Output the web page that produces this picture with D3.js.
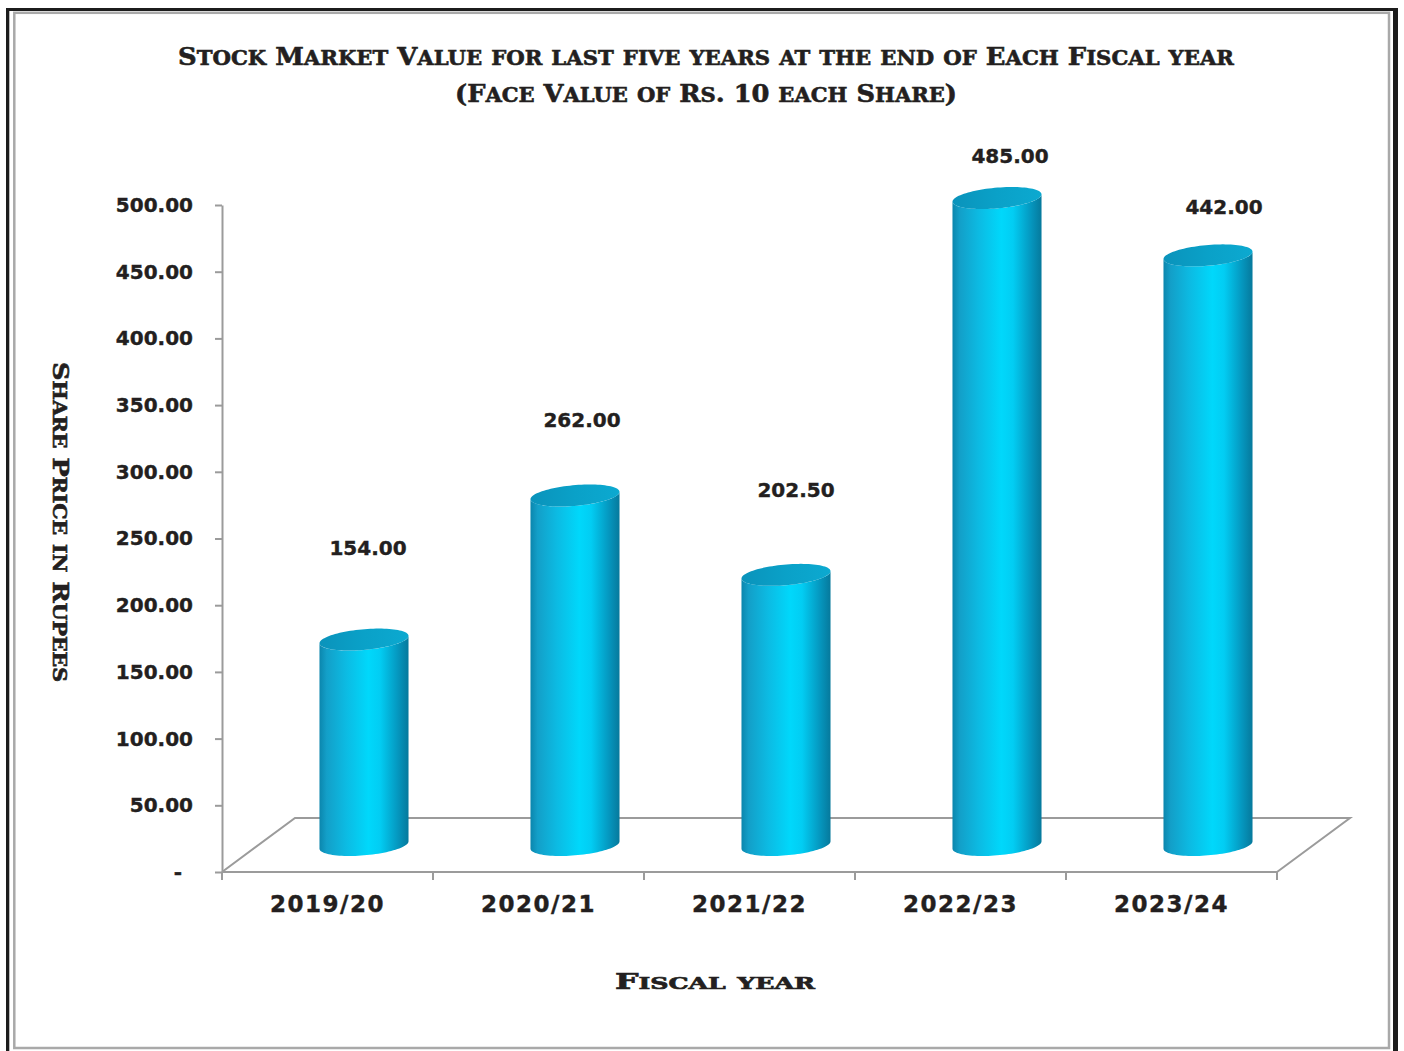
<!DOCTYPE html>
<html>
<head>
<meta charset="utf-8">
<script src="https://cdn.jsdelivr.net/npm/d3@7"></script>
<style>
  html, body { margin: 0; padding: 0; background: #ffffff; }
  svg { display: block; }
</style>
</head>
<body>
<svg id="chart" width="1404" height="1051"></svg>
<script>
// Fiscal years and closing share price (Rs.) for each year
const categories = ["2019/20", "2020/21", "2021/22", "2022/23", "2023/24"];
const sharePrices = [154, 262, 202.5, 485, 442];
const yTickValues = [0, 50, 100, 150, 200, 250, 300, 350, 400, 450, 500];
const titleLines = [
  "Stock Market Value for last five years at the end of Each Fiscal year",
  "(Face Value of Rs. 10 each Share)"
];
const yAxisTitle = "Share Price in Rupees";
const xAxisTitle = "Fiscal year";

const svg = d3.select("#chart");
const ink = "#231f20";
const floorGrey = "#9b9b9b";

// ---- frame ----
svg.append("rect").attr("x", 6).attr("y", 8).attr("width", 1392).attr("height", 3).attr("fill", "#1c1c1c");
svg.append("rect").attr("x", 6).attr("y", 8).attr("width", 3.3).attr("height", 1043).attr("fill", "#1c1c1c");
svg.append("rect").attr("x", 1393).attr("y", 8).attr("width", 5).attr("height", 1043).attr("fill", "#1c1c1c");
svg.append("rect").attr("x", 14.3).attr("y", 12.8).attr("width", 1374.7).attr("height", 1035.2)
  .attr("fill", "none").attr("stroke", "#a9a9a9").attr("stroke-width", 2.5);

// ---- small caps helper: capitals at full size, lower case as reduced capitals ----
function smallCaps(sel, str, size, ratio) {
  const runs = [];
  for (const ch of str) {
    const small = ch !== ch.toUpperCase();
    const last = runs[runs.length - 1];
    if (last && last.small === small) last.t += ch; else runs.push({ small, t: ch });
  }
  sel.selectAll("tspan").data(runs).join("tspan")
    .attr("font-size", d => d.small ? size * ratio : size)
    .text(d => d.small ? d.t.toUpperCase() : d.t);
  return sel;
}

const serif = "'DejaVu Serif', 'Liberation Serif', serif";
const sans = "'DejaVu Sans', Verdana, sans-serif";

// heavier strokes so the bold faces read as solidly as the print
function heavy(sel, w) {
  return sel.attr("stroke", ink).attr("stroke-width", w).attr("paint-order", "stroke");
}

// ---- title ----
const titleY = [65, 102];
const titleW = [1056, 502];
titleLines.forEach((line, i) => {
  const t = svg.append("text")
    .attr("x", 706).attr("y", titleY[i])
    .attr("text-anchor", "middle")
    .attr("font-family", serif).attr("font-weight", "bold")
    .attr("fill", ink)
    .attr("textLength", titleW[i]).attr("lengthAdjust", "spacingAndGlyphs");
  heavy(t, 0.6);
  smallCaps(t, line, 25, 0.82);
});

// ---- scales ----
const plotLeft = 222, plotRight = 1277;
const y = d3.scaleLinear().domain([0, 500]).range([872, 205]);
const x = d3.scaleBand().domain(categories).range([plotLeft, plotRight]).padding(0);
const depth = { dx: 73, dy: -54 };   // oblique offset of the floor's back edge

// ---- floor ----
const y0 = y(0);
const floor = svg.append("g").attr("fill", "none").attr("stroke", floorGrey).attr("stroke-width", 2);
floor.append("path").attr("d", d3.line()([
  [plotLeft, y0], [plotLeft + depth.dx, y0 + depth.dy], [plotRight + depth.dx, y0 + depth.dy], [plotRight, y0]
]));
floor.append("line").attr("x1", plotLeft).attr("x2", plotRight).attr("y1", y0).attr("y2", y0);

// ---- gradients ----
const defs = svg.append("defs");
const bodyGrad = defs.append("linearGradient").attr("id", "cylBody").attr("x1", 0).attr("x2", 1).attr("y1", 0).attr("y2", 0);
[[0, "#0b86ad"], [0.08, "#139fc8"], [0.3, "#0cbbe3"], [0.55, "#00d8fb"], [0.68, "#02cdf3"], [0.88, "#0597bf"], [1, "#06799c"]]
  .forEach(([o, c]) => bodyGrad.append("stop").attr("offset", o).attr("stop-color", c));
const topGrad = defs.append("linearGradient").attr("id", "cylTop").attr("x1", 0).attr("x2", 1).attr("y1", 0).attr("y2", 0);
[[0, "#0a93bb"], [0.5, "#0aa1c8"], [1, "#0ca9d0"]]
  .forEach(([o, c]) => topGrad.append("stop").attr("offset", o).attr("stop-color", c));

// ---- cylinders ----
const bw = x.bandwidth();
const halfW = bw * 0.211;
const ry = 11;                                   // vertical half-extent of the cap
const shear = ry * depth.dx / -depth.dy;         // horizontal lean of the cap
const R = Math.sqrt(halfW * halfW - shear * shear);
const phi = Math.atan2(shear, R);

function ellPt(cx, cy, th) {
  return [cx + R * Math.cos(th) + shear * Math.sin(th), cy - ry * Math.sin(th)];
}
function arc(cx, cy, from, to, n = 48) {
  return d3.range(n + 1).map(k => ellPt(cx, cy, from + (to - from) * k / n));
}

const bars = categories.map((c, i) => {
  const cx = x(c) + bw / 2 + depth.dx / 2;
  return { c, i, v: sharePrices[i], cx, topY: y(sharePrices[i]) + depth.dy / 2, baseY: y(0) + depth.dy / 2 };
});

const g = svg.append("g");
const line = d3.line();
bars.forEach(b => {
  const bottomFront = arc(b.cx, b.baseY, Math.PI + phi, 2 * Math.PI + phi);
  const topFront = arc(b.cx, b.topY, 2 * Math.PI + phi, Math.PI + phi);
  g.append("path")
    .attr("d", line([ellPt(b.cx, b.topY, Math.PI + phi), ...bottomFront, ...topFront]) + "Z")
    .attr("fill", "url(#cylBody)");
  g.append("path")
    .attr("d", line(arc(b.cx, b.topY, 0, 2 * Math.PI, 96)) + "Z")
    .attr("fill", "url(#cylTop)");
});

// ---- value labels ----
const labelY = d3.scaleLinear().domain([0, 500]).range([737, 145]);
const labelShift = d3.scaleLinear().domain([0, categories.length - 1]).range([4, 16]);
heavy(svg.append("g"), 0.4).selectAll("text").data(bars).join("text")
  .attr("x", d => d.cx + labelShift(d.i))
  .attr("y", d => labelY(d.v))
  .attr("text-anchor", "middle")
  .attr("font-family", sans).attr("font-weight", "bold").attr("font-size", 20)
  .attr("fill", ink)
  .text(d => d3.format(".2f")(d.v));

// ---- y axis ----
const yAxis = svg.append("g")
  .attr("transform", `translate(${plotLeft},0)`)
  .call(d3.axisLeft(y).tickValues(yTickValues).tickSize(7).tickSizeOuter(0).tickPadding(22)
    .tickFormat(d => d === 0 ? "-" : d3.format(".2f")(d)));
yAxis.select(".domain").attr("stroke", floorGrey).attr("stroke-width", 2);
yAxis.selectAll(".tick line").attr("stroke", floorGrey).attr("stroke-width", 2);
heavy(yAxis.selectAll(".tick text"), 0.4)
  .attr("font-family", sans).attr("font-weight", "bold").attr("font-size", 20).attr("fill", ink)
  .attr("dx", d => d === 0 ? -11 : 0);

// ---- x ticks and labels ----
const boundaries = categories.map(c => x(c)).concat([plotRight]);
svg.append("g").selectAll("line").data(boundaries).join("line")
  .attr("x1", d => d).attr("x2", d => d).attr("y1", y0).attr("y2", y0 + 8)
  .attr("stroke", floorGrey).attr("stroke-width", 2);
heavy(svg.append("g"), 0.4).selectAll("text").data(categories).join("text")
  .attr("x", d => x(d) + bw / 2)
  .attr("y", 912)
  .attr("text-anchor", "middle")
  .attr("font-family", sans).attr("font-weight", "bold").attr("font-size", 23)
  .attr("letter-spacing", 1.5)
  .attr("fill", ink)
  .text(d => d);

// ---- axis titles ----
const yt = svg.append("text")
  .attr("transform", "translate(53,522) rotate(90)")
  .attr("text-anchor", "middle")
  .attr("font-family", serif).attr("font-weight", "bold").attr("fill", ink)
  .attr("textLength", 320).attr("lengthAdjust", "spacingAndGlyphs");
heavy(yt, 0.6);
smallCaps(yt, yAxisTitle, 23, 0.8);

const xt = svg.append("text")
  .attr("x", 715).attr("y", 989)
  .attr("text-anchor", "middle")
  .attr("font-family", serif).attr("font-weight", "bold").attr("fill", ink)
  .attr("textLength", 200).attr("lengthAdjust", "spacingAndGlyphs");
heavy(xt, 0.7);
smallCaps(xt, xAxisTitle, 23, 0.76);
</script>
</body>
</html>
